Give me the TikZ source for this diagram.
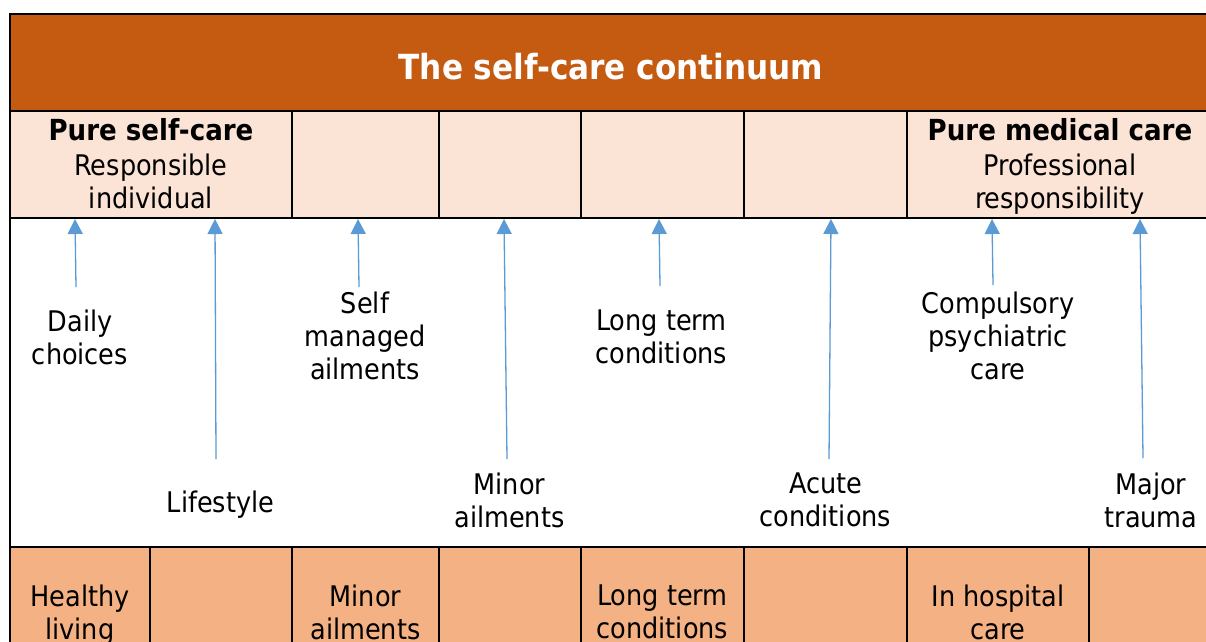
\documentclass[tikz,border=0pt]{standalone}
\usepackage{fontspec}
\setmainfont{DejaVu Sans Condensed}
\usetikzlibrary{arrows.meta}
\definecolor{hdrfill}{HTML}{C55A11}
\definecolor{lightfill}{HTML}{FBE4D5}
\definecolor{midfill}{HTML}{F4B183}
\definecolor{arrowblue}{HTML}{5B9BD5}
\tikzset{
  grid/.style={draw=black, line width=2pt},
  lbl/.style={anchor=north, inner sep=0pt, align=center, text=black,
    font=\fontsize{28.4}{33}\selectfont, execute at begin node=\strut},
  headbold/.style={anchor=north, inner sep=0pt, align=center, text=black,
    font=\fontsize{29}{35}\selectfont\bfseries, execute at begin node=\strut},
  titletext/.style={anchor=north, inner sep=0pt, align=center, text=white,
    font=\fontsize{34.6}{41.5}\selectfont\bfseries, execute at begin node=\strut},
  arr/.style={draw=arrowblue, line width=1.3pt, -{Triangle[width=15pt,length=15pt]}}
}
\begin{document}
\begin{tikzpicture}[x=1pt,y=-1pt]
\useasboundingbox (0,0) rectangle (1206,641);
\fill[white] (0,0) rectangle (1206,641);
\clip (0,0) rectangle (1206,641);

% row 1 : title band
\path[grid, fill=hdrfill] (10,14) rectangle (1213,111);
% row 2 : light cells
\foreach \a/\b in {10/292, 292/439, 439/581, 581/744, 744/907, 907/1213}
  \path[grid, fill=lightfill] (\a,111) rectangle (\b,218);
% row 3 : white band
\path[grid, fill=white] (10,218) rectangle (1213,547);
% row 4 : orange cells
\foreach \a/\b in {10/150, 150/292, 292/439, 439/581, 581/744, 744/907, 907/1089, 1089/1213}
  \path[grid, fill=midfill] (\a,547) rectangle (\b,720);

% title
\node[titletext] (title) at (611,50) {The self-care continuum};

% row 2 headings
\node[headbold] (pself) at (151,116) {Pure self-care};
\node[lbl] (pselfsub) at (151,154) {Responsible\\individual};
\node[headbold] (pmed) at (1060,116) {Pure medical care};
\node[lbl] (pmedsub) at (1060,154) {Professional\\responsibility};

% labels in white band
\node[lbl] (daily) at (80,310) {Daily\\choices};
\node[lbl] (life) at (220.5,489) {Lifestyle};
\node[lbl] (selfm) at (365,292) {Self\\managed\\ailments};
\node[lbl] (minor) at (509.5,473) {Minor\\ailments};
\node[lbl] (longt) at (661.5,310) {Long term\\conditions};
\node[lbl] (acute) at (825.5,473) {Acute\\conditions};
\node[lbl] (comp) at (998,292) {Compulsory\\psychiatric\\care};
\node[lbl] (major) at (1151,473) {Major\\trauma};

% arrow end points
\coordinate (a1b) at (76,287);   \coordinate (a1t) at (75,219);
\coordinate (a2b) at (216,459);  \coordinate (a2t) at (215,219);
\coordinate (a3b) at (359,287);  \coordinate (a3t) at (358,219);
\coordinate (a4b) at (507,459);  \coordinate (a4t) at (504,219);
\coordinate (a5b) at (660,286);  \coordinate (a5t) at (659,219);
\coordinate (a6b) at (829,459);  \coordinate (a6t) at (831,219);
\coordinate (a7b) at (993,285);  \coordinate (a7t) at (992,219);
\coordinate (a8b) at (1143,458); \coordinate (a8t) at (1140,219);
\foreach \i in {1,...,8} \draw[arr] (a\i b) -- (a\i t);

% bottom row texts
\node[lbl] (healthy) at (80,585) {Healthy\\living};
\node[lbl] (minorb) at (365.5,585) {Minor\\ailments};
\node[lbl] (longb) at (662.5,585) {Long term\\conditions};
\node[lbl] (hosp) at (998,585) {In hospital\\care};
\end{tikzpicture}
\end{document}
